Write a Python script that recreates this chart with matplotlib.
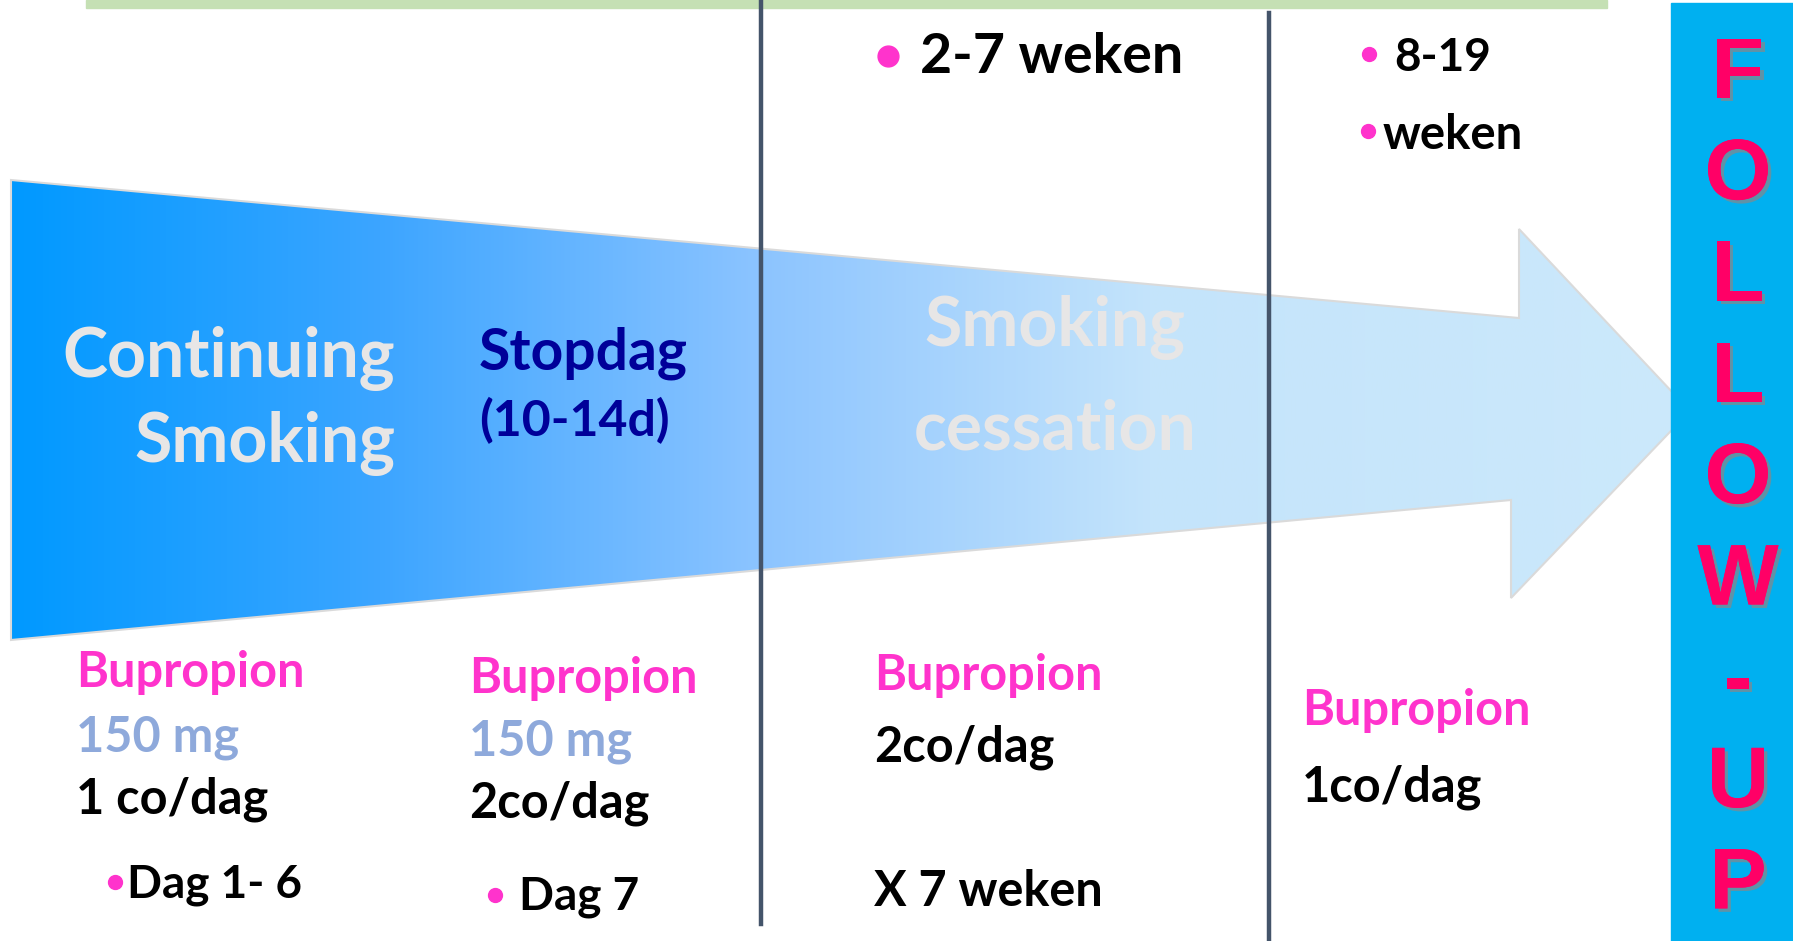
import matplotlib.pyplot as plt
import matplotlib.patheffects as pe
import numpy as np
from matplotlib.patches import Polygon, Rectangle

# ---- content ----
left_phase = ["Continuing", "Smoking"]
stop_phase = ["Stopdag", "(10-14d)"]
quit_phase = ["Smoking", "cessation"]
week_top_mid = "2-7 weken"
week_top_right = ["8-19", "weken"]

drug = "Bupropion"
dose = "150 mg"
col1 = ["1 co/dag", "Dag 1- 6"]
col2 = ["2co/dag", "Dag 7"]
col3 = ["2co/dag", "X 7 weken"]
col4 = ["1co/dag"]
follow_up = "FOLLOW-UP"

# ---- colours ----
PINK = "#FF33CC"
DOSE = "#8EA9DB"
NAVY = "#000099"
LIGHT = "#E7E6E6"
HOT = "#FF0066"
LINE = "#44546A"

W, H = 1793, 941
fig = plt.figure(figsize=(W / 100, H / 100), dpi=100)
ax = fig.add_axes([0, 0, 1, 1])
ax.set_xlim(0, W)
ax.set_ylim(H, 0)
ax.axis("off")

FONT = "Lato"
SMALL = 35

def txt(x, y, s, size, color, ha="left", **kw):
    ax.text(x, y, s, fontsize=size, color=color, ha=ha, va="baseline",
            fontfamily=FONT, fontweight="bold", zorder=6, **kw)

def dot(x, y, size):
    ax.plot([x], [y], "o", color=PINK, markersize=size, zorder=6)

# green bar at the top
ax.add_patch(Rectangle((86, 0), 1521, 8, color="#C5E0B4", zorder=1))

# big gradient arrow
verts = [(11, 180), (1519, 318), (1519, 229), (1690, 411),
         (1511, 598), (1511, 500), (11, 640)]
arrow = Polygon(verts, closed=True, facecolor="none",
                edgecolor="#DADADA", lw=1.5, zorder=3)
ax.add_patch(arrow)
stops_x = [11, 380, 760, 1150, 1690]
stops_c = np.array([[0, 153, 255], [60, 165, 255], [140, 196, 255],
                    [196, 228, 251], [204, 233, 251]]) / 255
gx = np.linspace(11, 1690, 800)
grad = np.stack([np.interp(gx, stops_x, stops_c[:, k]) for k in range(3)], axis=-1)
im = ax.imshow(grad[np.newaxis, :, :], extent=[11, 1690, 640, 180],
               aspect="auto", zorder=2)
clip = Polygon(verts, closed=True, transform=ax.transData)
im.set_clip_path(clip)

# separators
ax.plot([761, 761], [0, 924], color=LINE, lw=3.2, zorder=4)
ax.plot([1269, 1269], [13, 941], color=LINE, lw=3.2, zorder=4)

# follow-up box
ax.add_patch(Rectangle((1671, 3), W - 1671, H - 3, color="#00B0F0", zorder=5))
for i, ch in enumerate(follow_up):
    ax.text(1738, 98 + 101.3 * i, ch, fontsize=62, color=HOT, ha="center",
            va="baseline", fontfamily="Liberation Sans", fontweight="bold", zorder=7,
            path_effects=[pe.withSimplePatchShadow(offset=(2.5, -2.5),
                                                   shadow_rgbFace="#888888", alpha=0.7),
                          pe.Normal()])

# texts inside the arrow
txt(395, 377, left_phase[0], 49, LIGHT, ha="right")
txt(395, 462, left_phase[1], 49, LIGHT, ha="right")
txt(479, 369, stop_phase[0], 41, NAVY)
txt(479, 436, stop_phase[1], 36, NAVY)
txt(1055, 346, quit_phase[0], 49, LIGHT, ha="center")
txt(1055, 449, quit_phase[1], 49, LIGHT, ha="center")

# week labels at top
dot(888, 56, 15)
txt(920, 73, week_top_mid, 40, "black")
dot(1369, 54, 10)
txt(1394, 71, week_top_right[0], 33, "black")
dot(1368, 131, 10)
txt(1383, 149, week_top_right[1], 34, "black")

# dosage columns
txt(76, 687, drug, SMALL, PINK)
txt(76, 752, dose, SMALL, DOSE)
txt(76, 813, col1[0], SMALL, "black")
dot(115, 882, 10)
txt(127, 897, col1[1], 33, "black")

txt(469, 693, drug, SMALL, PINK)
txt(469, 756, dose, SMALL, DOSE)
txt(469, 818, col2[0], SMALL, "black")
dot(495, 895, 10)
txt(519, 910, col2[1], 33, "black")

txt(874, 690, drug, SMALL, PINK)
txt(874, 762, col3[0], SMALL, "black")
txt(874, 906, col3[1], SMALL, "black")

txt(1302, 725, drug, SMALL, PINK)
txt(1302, 801, col4[0], SMALL, "black")

fig.savefig("out.png", dpi=100)
